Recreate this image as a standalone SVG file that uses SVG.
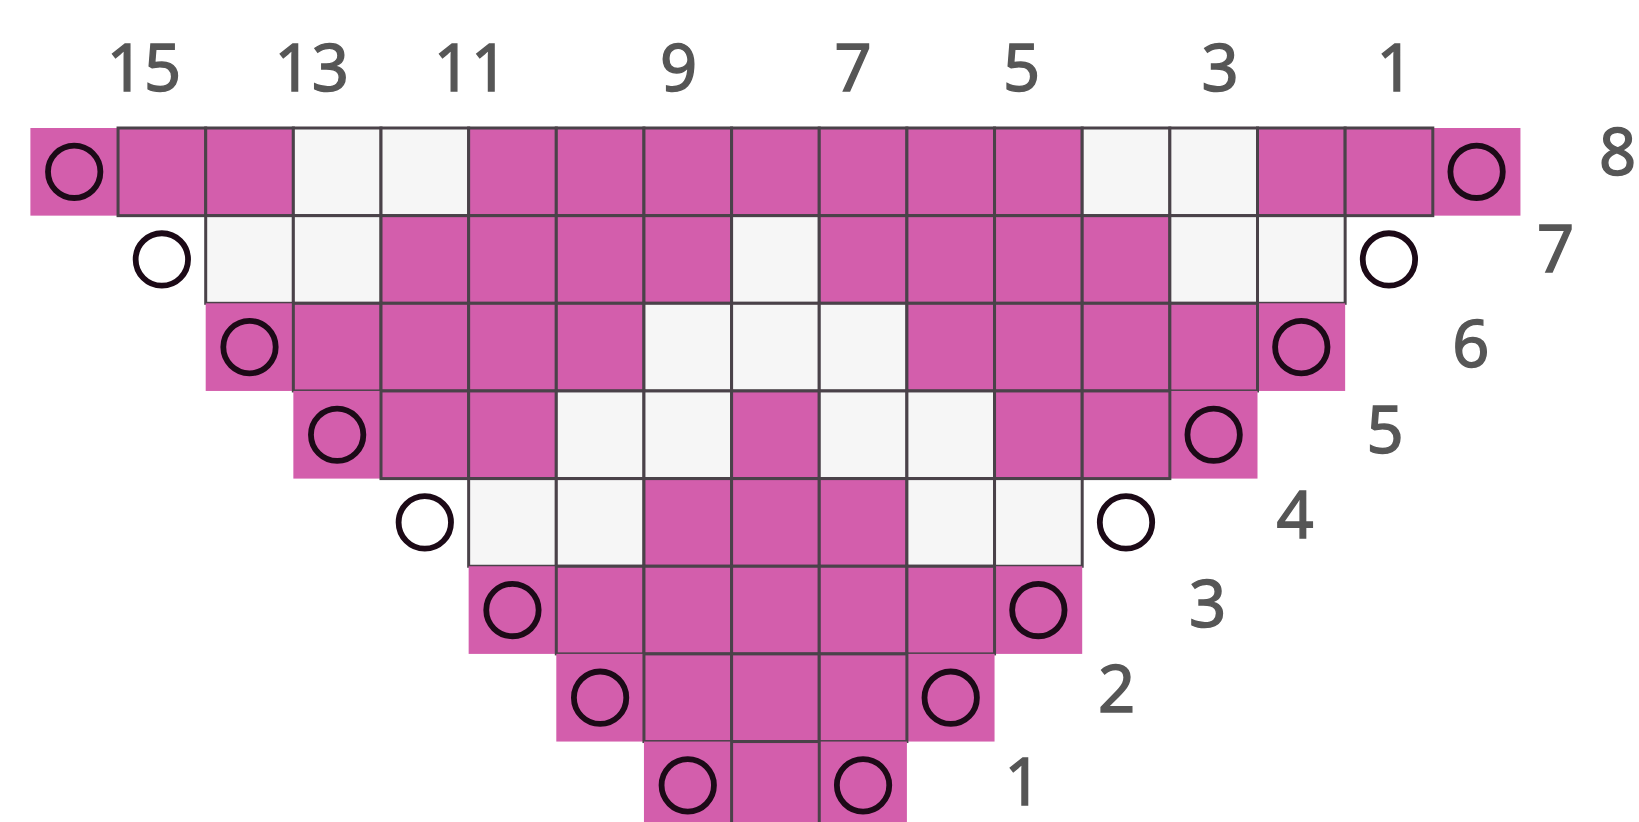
<svg xmlns="http://www.w3.org/2000/svg" width="1639" height="822" viewBox="0 0 1639 822">
<style>
.p{fill:#d35eac}
.w{fill:#f6f6f6}
.b{stroke:#4a4249;stroke-width:3}
.o{fill:none;stroke:#1c0a17;stroke-width:5.8}
.t{font-family:"Noto Sans","Open Sans","Liberation Sans",sans-serif;font-weight:400;font-size:65px;fill:#565656;stroke:#565656;stroke-width:1.4;text-anchor:middle}
</style>
<rect width="1639" height="822" fill="#ffffff"/>
<g id="row8">
<rect class="p" x="30.4" y="128" width="87.65" height="87.65"/>
<rect class="p" x="1432.8" y="128" width="87.65" height="87.65"/>
<circle class="o" cx="74.2" cy="171.8" r="26.2"/>
<circle class="o" cx="1476.6" cy="171.8" r="26.2"/>
<rect class="p b" x="118.05" y="128" width="87.65" height="87.65"/>
<rect class="p b" x="205.7" y="128" width="87.65" height="87.65"/>
<rect class="w b" x="293.35" y="128" width="87.65" height="87.65"/>
<rect class="w b" x="381" y="128" width="87.65" height="87.65"/>
<rect class="p b" x="468.65" y="128" width="87.65" height="87.65"/>
<rect class="p b" x="556.3" y="128" width="87.65" height="87.65"/>
<rect class="p b" x="643.95" y="128" width="87.65" height="87.65"/>
<rect class="p b" x="731.6" y="128" width="87.65" height="87.65"/>
<rect class="p b" x="819.25" y="128" width="87.65" height="87.65"/>
<rect class="p b" x="906.9" y="128" width="87.65" height="87.65"/>
<rect class="p b" x="994.55" y="128" width="87.65" height="87.65"/>
<rect class="w b" x="1082.2" y="128" width="87.65" height="87.65"/>
<rect class="w b" x="1169.85" y="128" width="87.65" height="87.65"/>
<rect class="p b" x="1257.5" y="128" width="87.65" height="87.65"/>
<rect class="p b" x="1345.15" y="128" width="87.65" height="87.65"/>
</g>
<g id="row7">
<circle class="o" cx="161.85" cy="259.45" r="26.2"/>
<circle class="o" cx="1388.95" cy="259.45" r="26.2"/>
<rect class="w b" x="205.7" y="215.65" width="87.65" height="87.65"/>
<rect class="w b" x="293.35" y="215.65" width="87.65" height="87.65"/>
<rect class="p b" x="381" y="215.65" width="87.65" height="87.65"/>
<rect class="p b" x="468.65" y="215.65" width="87.65" height="87.65"/>
<rect class="p b" x="556.3" y="215.65" width="87.65" height="87.65"/>
<rect class="p b" x="643.95" y="215.65" width="87.65" height="87.65"/>
<rect class="w b" x="731.6" y="215.65" width="87.65" height="87.65"/>
<rect class="p b" x="819.25" y="215.65" width="87.65" height="87.65"/>
<rect class="p b" x="906.9" y="215.65" width="87.65" height="87.65"/>
<rect class="p b" x="994.55" y="215.65" width="87.65" height="87.65"/>
<rect class="p b" x="1082.2" y="215.65" width="87.65" height="87.65"/>
<rect class="w b" x="1169.85" y="215.65" width="87.65" height="87.65"/>
<rect class="w b" x="1257.5" y="215.65" width="87.65" height="87.65"/>
</g>
<g id="row6">
<rect class="p" x="205.7" y="303.3" width="87.65" height="87.65"/>
<rect class="p" x="1257.5" y="303.3" width="87.65" height="87.65"/>
<circle class="o" cx="249.5" cy="347.1" r="26.2"/>
<circle class="o" cx="1301.3" cy="347.1" r="26.2"/>
<rect class="p b" x="293.35" y="303.3" width="87.65" height="87.65"/>
<rect class="p b" x="381" y="303.3" width="87.65" height="87.65"/>
<rect class="p b" x="468.65" y="303.3" width="87.65" height="87.65"/>
<rect class="p b" x="556.3" y="303.3" width="87.65" height="87.65"/>
<rect class="w b" x="643.95" y="303.3" width="87.65" height="87.65"/>
<rect class="w b" x="731.6" y="303.3" width="87.65" height="87.65"/>
<rect class="w b" x="819.25" y="303.3" width="87.65" height="87.65"/>
<rect class="p b" x="906.9" y="303.3" width="87.65" height="87.65"/>
<rect class="p b" x="994.55" y="303.3" width="87.65" height="87.65"/>
<rect class="p b" x="1082.2" y="303.3" width="87.65" height="87.65"/>
<rect class="p b" x="1169.85" y="303.3" width="87.65" height="87.65"/>
</g>
<g id="row5">
<rect class="p" x="293.35" y="390.95" width="87.65" height="87.65"/>
<rect class="p" x="1169.85" y="390.95" width="87.65" height="87.65"/>
<circle class="o" cx="337.15" cy="434.75" r="26.2"/>
<circle class="o" cx="1213.65" cy="434.75" r="26.2"/>
<rect class="p b" x="381" y="390.95" width="87.65" height="87.65"/>
<rect class="p b" x="468.65" y="390.95" width="87.65" height="87.65"/>
<rect class="w b" x="556.3" y="390.95" width="87.65" height="87.65"/>
<rect class="w b" x="643.95" y="390.95" width="87.65" height="87.65"/>
<rect class="p b" x="731.6" y="390.95" width="87.65" height="87.65"/>
<rect class="w b" x="819.25" y="390.95" width="87.65" height="87.65"/>
<rect class="w b" x="906.9" y="390.95" width="87.65" height="87.65"/>
<rect class="p b" x="994.55" y="390.95" width="87.65" height="87.65"/>
<rect class="p b" x="1082.2" y="390.95" width="87.65" height="87.65"/>
</g>
<g id="row4">
<circle class="o" cx="424.8" cy="522.4" r="26.2"/>
<circle class="o" cx="1126" cy="522.4" r="26.2"/>
<rect class="w b" x="468.65" y="478.6" width="87.65" height="87.65"/>
<rect class="w b" x="556.3" y="478.6" width="87.65" height="87.65"/>
<rect class="p b" x="643.95" y="478.6" width="87.65" height="87.65"/>
<rect class="p b" x="731.6" y="478.6" width="87.65" height="87.65"/>
<rect class="p b" x="819.25" y="478.6" width="87.65" height="87.65"/>
<rect class="w b" x="906.9" y="478.6" width="87.65" height="87.65"/>
<rect class="w b" x="994.55" y="478.6" width="87.65" height="87.65"/>
</g>
<g id="row3">
<rect class="p" x="468.65" y="566.25" width="87.65" height="87.65"/>
<rect class="p" x="994.55" y="566.25" width="87.65" height="87.65"/>
<circle class="o" cx="512.45" cy="610.05" r="26.2"/>
<circle class="o" cx="1038.35" cy="610.05" r="26.2"/>
<rect class="p b" x="556.3" y="566.25" width="87.65" height="87.65"/>
<rect class="p b" x="643.95" y="566.25" width="87.65" height="87.65"/>
<rect class="p b" x="731.6" y="566.25" width="87.65" height="87.65"/>
<rect class="p b" x="819.25" y="566.25" width="87.65" height="87.65"/>
<rect class="p b" x="906.9" y="566.25" width="87.65" height="87.65"/>
</g>
<g id="row2">
<rect class="p" x="556.3" y="653.9" width="87.65" height="87.65"/>
<rect class="p" x="906.9" y="653.9" width="87.65" height="87.65"/>
<circle class="o" cx="600.1" cy="697.7" r="26.2"/>
<circle class="o" cx="950.7" cy="697.7" r="26.2"/>
<rect class="p b" x="643.95" y="653.9" width="87.65" height="87.65"/>
<rect class="p b" x="731.6" y="653.9" width="87.65" height="87.65"/>
<rect class="p b" x="819.25" y="653.9" width="87.65" height="87.65"/>
</g>
<g id="row1">
<rect class="p" x="643.95" y="741.55" width="87.65" height="87.65"/>
<rect class="p" x="819.25" y="741.55" width="87.65" height="87.65"/>
<circle class="o" cx="687.75" cy="785.35" r="26.2"/>
<circle class="o" cx="863.05" cy="785.35" r="26.2"/>
<rect class="p b" x="731.6" y="741.55" width="87.65" height="87.65"/>
</g>
<g id="column-labels">
<text class="t" x="144" y="90.5">15</text>
<text class="t" x="311.7" y="90.5">13</text>
<text class="t" x="471" y="90.5">11</text>
<text class="t" x="678.5" y="90.5">9</text>
<text class="t" x="853" y="90.5">7</text>
<text class="t" x="1021.7" y="90.5">5</text>
<text class="t" x="1220" y="90.5">3</text>
<text class="t" x="1395" y="90.5">1</text>
</g>
<g id="row-labels">
<text class="t" x="1617.5" y="175">8</text>
<text class="t" x="1555.7" y="271.7">7</text>
<text class="t" x="1470.8" y="366.7">6</text>
<text class="t" x="1385" y="453">5</text>
<text class="t" x="1295" y="538.3">4</text>
<text class="t" x="1207.5" y="626.7">3</text>
<text class="t" x="1116.7" y="711.7">2</text>
<text class="t" x="1023" y="805">1</text>
</g>
</svg>
